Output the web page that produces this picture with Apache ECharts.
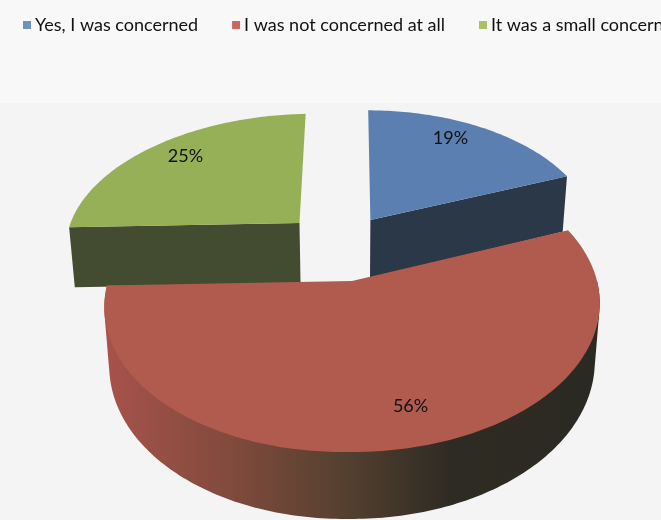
<!DOCTYPE html>
<html><head><meta charset="utf-8">
<style>html,body{margin:0;padding:0;background:#f4f4f5}#c{width:661px;height:520px}</style>
<script src="https://cdn.jsdelivr.net/npm/echarts@6/dist/echarts.min.js"></script>
</head><body><div id="c"></div>
<script>
const categories = ['Yes, I was concerned', 'I was not concerned at all', 'It was a small concern'];
const percents = [19, 56, 25];

const swatchColors = ['#6a93c0', '#c9665f', '#a9c065'];
const topColors = ['#5a7fb0', '#b15b4e', '#95b056'];
const faceColors = ['#2b3847', null, '#434b31'];
const explode = [[0.08, -0.447], [0, 0], [-0.228, -0.43]];
const radii = [[0.97, 0.97], [1, 1], [1, 0.96]];
const depths = [62, 57, 64];
const labelNudge = [[-13, -4], [17, -4], [3, -1]];
const FONT = 'Lato,"Open Sans",sans-serif';

// Perspective projection of the tilted pie disk
const K = 0.148, A = 245, B = 145.7, CX = 352, CY = 281, ZF = 0.98, SHEAR = 0.018;
function project(u, v, depth) {
  const s = 1 / (1 - K * v);
  let x = CX + A * u * s, y = CY + B * v * s;
  if (x < CX) y += (CX - x) * SHEAR;
  if (depth) { y += depth * s; x = CX + (x - CX) * ZF; }
  return [x, y];
}
const total = percents.reduce((a, b) => a + b, 0);
function startAngle(i) {
  let c = 0;
  for (let j = 0; j < i; j++) c += percents[j];
  return c / total * 2 * Math.PI;
}
function rimPoint(i, a, depth) {
  const [ex, ey] = explode[i], [rx, ry] = radii[i];
  return project(ex + rx * Math.sin(a), ey - ry * Math.cos(a), depth);
}
function rim(i, a0, a1, depth) {
  const pts = [], n = Math.max(1, Math.ceil(Math.abs(a1 - a0) * 60));
  for (let t = 0; t <= n; t++) pts.push(rimPoint(i, a0 + (a1 - a0) * t / n, depth));
  return pts;
}
function hull(points) {
  const p = points.slice().sort((a, b) => a[0] - b[0] || a[1] - b[1]);
  const cross = (o, a, b) => (a[0] - o[0]) * (b[1] - o[1]) - (a[1] - o[1]) * (b[0] - o[0]);
  const lo = [], up = [];
  for (const q of p) { while (lo.length > 1 && cross(lo[lo.length - 2], lo[lo.length - 1], q) <= 0) lo.pop(); lo.push(q); }
  for (const q of p.reverse()) { while (up.length > 1 && cross(up[up.length - 2], up[up.length - 1], q) <= 0) up.pop(); up.push(q); }
  return lo.slice(0, -1).concat(up.slice(0, -1));
}
const wallFill = new echarts.graphic.LinearGradient(0, 0, 1, 0, [
  { offset: 0, color: '#a8524b' }, { offset: 0.265, color: '#7f4a3c' },
  { offset: 0.485, color: '#54402f' }, { offset: 0.7, color: '#2e2b23' }, { offset: 1, color: '#2b2a22' }
]);
function makeRender(i) {
  return function (params, api) {
    const value = api.value(0);
    const a0 = startAngle(i), a1 = a0 + value / total * 2 * Math.PI;
    const [ex, ey] = explode[i], d = depths[i];
    const children = [];
    if (faceColors[i]) {
      const a = i === 0 ? a1 : a0;
      children.push({
        type: 'polygon',
        shape: { points: [project(ex, ey, 0), rimPoint(i, a, 0), rimPoint(i, a, d), project(ex, ey, d)] },
        style: { fill: faceColors[i] }
      });
    } else {
      const front = Math.PI / 2;
      const pts = hull(rim(i, front, a1, 0).concat(rim(i, front, a1, d)));
      children.push({ type: 'polygon', shape: { points: pts }, style: { fill: wallFill } });
    }
    children.push({
      type: 'polygon',
      shape: { points: [project(ex, ey, 0)].concat(rim(i, a0, a1, 0)) },
      style: { fill: topColors[i] }
    });
    const mid = (a0 + a1) / 2, r = 0.8;
    const p = project(ex + r * Math.sin(mid), ey - r * Math.cos(mid), 0);
    children.push({
      type: 'text', x: p[0] + labelNudge[i][0], y: p[1] + labelNudge[i][1],
      style: { text: value + '%', fill: '#111', font: '18px ' + FONT, align: 'center', verticalAlign: 'middle' }
    });
    return { type: 'group', children };
  };
}
const chart = echarts.init(document.getElementById('c'), null, { renderer: 'canvas' });
chart.setOption({
  animation: false,
  backgroundColor: '#f4f4f5',
  graphic: [{ type: 'rect', z: -1, shape: { x: 0, y: 0, width: 661, height: 103 }, style: { fill: '#f8f8f9' } }],
  legend: {
    left: 18, top: 11, width: 1000, itemWidth: 8, itemHeight: 8, itemGap: 34, icon: 'rect',
    data: categories, textStyle: { fontFamily: FONT, fontSize: 18, color: '#111', padding: [0, 0, 0, -1] }
  },
  series: categories.map((name, i) => ({
    type: 'custom', name, coordinateSystem: 'none', z: i === 1 ? 3 : 2,
    itemStyle: { color: swatchColors[i] },
    renderItem: makeRender(i),
    data: [[percents[i]]]
  }))
});
</script></body></html>
